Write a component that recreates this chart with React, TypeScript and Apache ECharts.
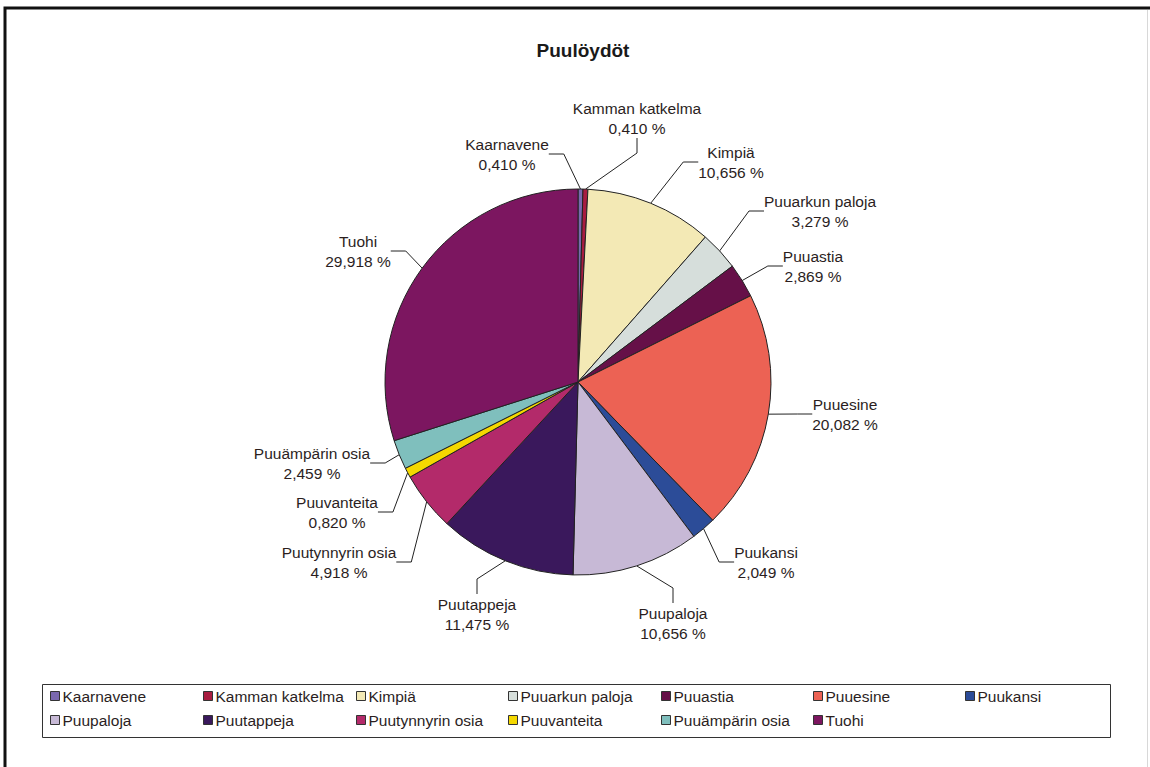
import React, { useEffect, useRef } from "react";
import * as echarts from "echarts";

const categories = [
  "Kaarnavene",
  "Kamman katkelma",
  "Kimpiä",
  "Puuarkun paloja",
  "Puuastia",
  "Puuesine",
  "Puukansi",
  "Puupaloja",
  "Puutappeja",
  "Puutynnyrin osia",
  "Puuvanteita",
  "Puuämpärin osia",
  "Tuohi",
];
const percents = [0.41, 0.41, 10.656, 3.279, 2.869, 20.082, 2.049, 10.656, 11.475, 4.918, 0.82, 2.459, 29.918];
const colors = [
  "#7a68ae", "#a81c40", "#f3e9b5", "#d6dedb", "#661048", "#ec6254", "#2c4c98",
  "#c7b9d6", "#3a185c", "#b32a6a", "#f4d800", "#7fbfbd", "#7c1660",
];
// label anchor positions (layout only)
const labelPos: [number, number][] = [
  [507, 154], [637, 118], [731, 162], [820, 211], [813, 266], [845, 414], [766, 562],
  [673, 623], [477, 614], [339, 562], [337, 512], [312, 463], [358, 251],
];
const legendCols = [50, 203, 356, 508, 661, 813, 965];
const legendRows = [697, 721];

const FONT = "'Liberation Sans', Arial, sans-serif";
const TEXT = "#2b1e1e";

export default function App() {
  const ref = useRef<HTMLDivElement>(null);
  useEffect(() => {
    const chart = echarts.init(ref.current!, undefined, { renderer: "svg" });
    const legends = categories.map((name, i) => ({
      data: [name],
      left: legendCols[i % 7],
      top: legendRows[Math.floor(i / 7)] - 9,
      orient: "horizontal",
      itemWidth: 9,
      itemHeight: 9,
      itemGap: 3,
      padding: 0,
      icon: "rect",
      selectedMode: false,
      itemStyle: { borderColor: "#333", borderWidth: 1 },
      textStyle: { fontFamily: FONT, fontSize: 15.5, color: TEXT, padding: [0, 0, 0, -2] },
    }));
    chart.setOption({
      animation: false,
      backgroundColor: "#ffffff",
      title: {
        text: "Puulöydöt",
        left: 578,
        top: 36,
        textAlign: "center",
        textStyle: { fontFamily: FONT, fontSize: 19, fontWeight: "bold", color: "#1a1a1a" },
      },
      legend: legends,
      graphic: [
        {
          type: "rect",
          shape: { x: 5, y: 8, width: 1160, height: 780 },
          style: { fill: "none", stroke: "#111", lineWidth: 3 },
          silent: true,
        },
        {
          type: "line",
          shape: { x1: 1147.5, y1: 10, x2: 1147.5, y2: 767 },
          style: { stroke: "#d8d8d8", lineWidth: 1 },
          silent: true,
        },
        {
          type: "rect",
          shape: { x: 42.5, y: 684.5, width: 1068, height: 53 },
          style: { fill: "none", stroke: "#333", lineWidth: 1 },
          silent: true,
        },
      ],
      series: [
        {
          type: "pie",
          center: [578, 382],
          radius: 193,
          startAngle: 90,
          clockwise: true,
          avoidLabelOverlap: false,
          itemStyle: { borderColor: "#222", borderWidth: 1 },
          label: {
            show: true,
            fontFamily: FONT,
            fontSize: 15.5,
            lineHeight: 20,
            color: TEXT,
            align: "center",
            formatter: (p: any) => `${p.name}\n${Number(p.value).toFixed(3).replace(".", ",")} %`,
          },
          labelLine: { show: true, length: 15, length2: 15, lineStyle: { color: "#222", width: 1 } },
          labelLayout: (params: any) => {
            const [x, y] = labelPos[params.dataIndex];
            return { x, y, align: "center", verticalAlign: "middle" };
          },
          data: categories.map((name, i) => ({ name, value: percents[i], itemStyle: { color: colors[i] } })),
        },
      ],
    });
    return () => chart.dispose();
  }, []);
  return <div ref={ref} style={{ position: "fixed", left: 0, top: 0, width: 1150, height: 767 }} />;
}
